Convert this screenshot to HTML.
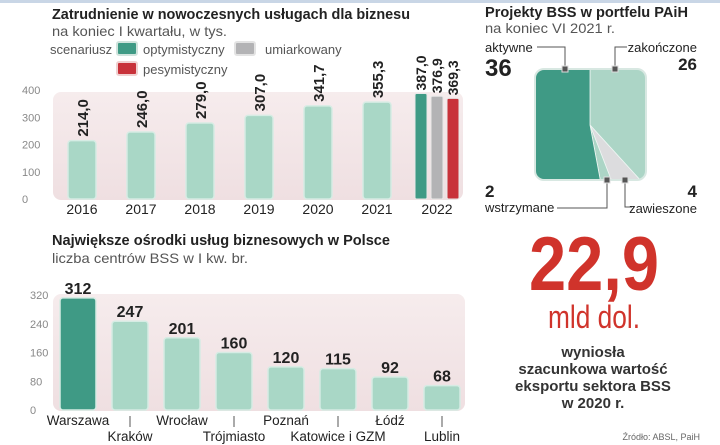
<!DOCTYPE html>
<html><head><meta charset="utf-8">
<style>
body{margin:0;background:#fff;}
#root{position:relative;width:720px;height:445px;overflow:hidden;background:#fff;font-family:"Liberation Sans",sans-serif;}
svg text{font-family:"Liberation Sans Narrow","Liberation Sans",sans-serif;}
</style></head>
<body>
<div id="root">
<svg id="svg" width="720" height="445" viewBox="0 0 720 445">
<defs>
<linearGradient id="bg" x1="0" y1="0" x2="0" y2="1"><stop offset="0" stop-color="#f6eced"/><stop offset="1" stop-color="#efdfe1"/></linearGradient>
<clipPath id="sq"><rect x="535" y="69" width="111" height="111" rx="9"/></clipPath>
</defs>
<rect x="0" y="0" width="720" height="3" fill="#c9d6e6"/>
<text x="52" y="19" font-size="15" font-weight="bold" fill="#222" textLength="358" lengthAdjust="spacingAndGlyphs">Zatrudnienie w nowoczesnych usługach dla biznesu</text>
<text x="52" y="36" font-size="14" fill="#555" textLength="175" lengthAdjust="spacingAndGlyphs">na koniec I kwartału, w tys.</text>
<text x="50" y="54" font-size="13" fill="#555">scenariusz</text>
<g><rect x="117" y="42" width="20" height="13" rx="2" fill="#3f9a85" stroke="#cfe3dc" stroke-width="2"/><text x="143" y="54" font-size="13" fill="#555">optymistyczny</text></g>
<g><rect x="235" y="42" width="20" height="13" rx="2" fill="#b3b3b5" stroke="#e3e3e3" stroke-width="2"/><text x="265" y="54" font-size="13" fill="#555">umiarkowany</text></g>
<g><rect x="117" y="62" width="20" height="13" rx="2" fill="#c8323a" stroke="#f0d0d0" stroke-width="2"/><text x="143" y="74" font-size="13" fill="#555">pesymistyczny</text></g>
<g id="topChart"></g>
<text x="52" y="245" font-size="15" font-weight="bold" fill="#222" textLength="338" lengthAdjust="spacingAndGlyphs">Największe ośrodki usług biznesowych w Polsce</text>
<text x="52" y="263" font-size="14" fill="#555" textLength="196" lengthAdjust="spacingAndGlyphs">liczba centrów BSS w I kw. br.</text>
<g id="botChart"></g>
<text x="485" y="17" font-size="15" font-weight="bold" fill="#222" textLength="203" lengthAdjust="spacingAndGlyphs">Projekty BSS w portfelu PAiH</text>
<text x="485" y="33" font-size="14" fill="#555" textLength="130" lengthAdjust="spacingAndGlyphs">na koniec VI 2021 r.</text>
<g id="pieChart"></g>
<text x="594" y="290" font-size="76" font-weight="bold" fill="#d0332b" text-anchor="middle" textLength="130" lengthAdjust="spacingAndGlyphs">22,9</text>
<text x="594" y="328" font-size="32" fill="#d0332b" text-anchor="middle" textLength="92" lengthAdjust="spacingAndGlyphs">mld dol.</text>
<g font-size="15" font-weight="bold" fill="#333" text-anchor="middle">
<text x="593" y="357">wyniosła</text>
<text x="593" y="374">szacunkowa wartość</text>
<text x="593" y="391">eksportu sektora BSS</text>
<text x="593" y="408">w 2020 r.</text>
</g>
<text x="700" y="440" font-size="9" fill="#666" text-anchor="end">Źródło: ABSL, PaiH</text>
</svg>
</div>
<script>
const NS="http://www.w3.org/2000/svg";
const years=["2016","2017","2018","2019","2020","2021"];
const empValues=[214.0,246.0,279.0,307.0,341.7,355.3];
const empLabels=["214,0","246,0","279,0","307,0","341,7","355,3"];
const scen2022=[387.0,376.9,369.3];
const scen2022Labels=["387,0","376,9","369,3"];
const empTicks=[0,100,200,300,400];
const cities=["Warszawa","Kraków","Wrocław","Trójmiasto","Poznań","Katowice i GZM","Łódź","Lublin"];
const cityValues=[312,247,201,160,120,115,92,68];
const cityTicks=[0,80,160,240,320];
const pieNames=["zakończone","zawieszone","wstrzymane","aktywne"];
const pieValues=[26,4,2,36];

function el(t,a,p){const e=document.createElementNS(NS,t);for(const k in a)e.setAttribute(k,a[k]);p.appendChild(e);return e;}
const topG=document.getElementById('topChart');
const y1=v=>199-v*(109/400);
const x1=i=>82+i*59;
let e=el('rect',{x:53,y:92,width:410,height:108,rx:8,fill:'url(#bg)'},topG);


empTicks.forEach(t=>{const tx=el('text',{x:22,y:y1(t)+4,'font-size':11,fill:'#888'},topG);tx.textContent=t;

});
empValues.forEach((v,i)=>{
 const b=el('rect',{x:x1(i)-14,y:y1(v),width:28,height:y1(0)-y1(v),rx:3,fill:'#a9d7c6',stroke:'#d6ece4','stroke-width':1.5},topG);
 
 
 const t=el('text',{x:0,y:0,'font-size':15,'font-weight':'bold',fill:'#222',transform:`translate(${x1(i)+6},${y1(v)-4}) rotate(-90)`},topG);t.textContent=empLabels[i];
 
 
 const yl=el('text',{x:x1(i),y:214,'font-size':14,fill:'#222','text-anchor':'middle'},topG);yl.textContent=years[i];
 
 
});
const cols=['#3f9a85','#b3b3b5','#c8323a'];
scen2022.forEach((v,i)=>{const cx=421+i*16;
 const b=el('rect',{x:cx-6,y:y1(v),width:12,height:y1(0)-y1(v),rx:1.5,fill:cols[i],stroke:'#e8e8e8','stroke-width':1},topG);
 
 
 const t=el('text',{x:0,y:0,'font-size':14,'font-weight':'bold',fill:'#222',transform:`translate(${cx+5},${y1(v)-3}) rotate(-90)`},topG);t.textContent=scen2022Labels[i];
 
 });
let yl=el('text',{x:437,y:214,'font-size':14,fill:'#222','text-anchor':'middle'},topG);yl.textContent="2022";



const botG=document.getElementById('botChart');
const y2=v=>410-v*(115/320);
const x2=i=>78+i*52;
e=el('rect',{x:53,y:294,width:412,height:117,rx:8,fill:'url(#bg)'},botG);


cityTicks.forEach(t=>{const tx=el('text',{x:30,y:y2(t)+4,'font-size':11,fill:'#888'},botG);tx.textContent=t;

});
cityValues.forEach((v,i)=>{
 const b=el('rect',{x:x2(i)-18,y:y2(v),width:36,height:y2(0)-y2(v),rx:3,fill:i==0?'#3f9a85':'#a9d7c6',stroke:'#d6ece4','stroke-width':1.5},botG);
 
 
 const t=el('text',{x:x2(i),y:y2(v)-4,'font-size':16,'font-weight':'bold',fill:'#222','text-anchor':'middle'},botG);t.textContent=v;
 
 
 const low=i%2==1;
 if(low){const l=el('line',{x1:x2(i),y1:416,x2:x2(i),y2:427,stroke:'#555','stroke-width':1},botG);
  
  }
 const c=el('text',{x:x2(i),y:low?441:425,'font-size':13.5,fill:'#222','text-anchor':'middle'},botG);c.textContent=cities[i];
 
 
});

const pieG=document.getElementById('pieChart');
const pcx=590,pcy=125,R=120;
const pcols=['#acd5c6','#dcdcde','#acd5c6','#3f9a85'];
const tot=pieValues.reduce((a,b)=>a+b,0);
let a0=0;
const g=el('g',{'clip-path':'url(#sq)'},pieG);


pieValues.forEach((v,i)=>{
 const a1=a0+v/tot*2*Math.PI;
 const p=(a)=>[pcx+R*Math.sin(a),pcy-R*Math.cos(a)];
 const [sx,sy]=p(a0),[ex,ey]=p(a1);
 const s=el('path',{d:`M${pcx},${pcy}L${sx},${sy}A${R},${R} 0 ${a1-a0>Math.PI?1:0} 1 ${ex},${ey}Z`,fill:pcols[i],stroke:'#eef6f3','stroke-width':0.8},g);
 
 
 a0=a1;});
e=el('rect',{x:535,y:69,width:111,height:111,rx:9,fill:'none',stroke:'#d8e8e2','stroke-width':2},pieG);


const ann=[
 {n:'aktywne',v:'36',lx:485,ly:52,vy:76,anchor:'start',bold:24,path:'M537,47 L565,47 L565,69',mx:565,my:69},
 {n:'zakończone',v:'26',lx:697,ly:52,vy:70,anchor:'end',bold:17,path:'M627,47 L615,47 L615,69',mx:615,my:69},
 {n:'wstrzymane',v:'2',lx:485,ly:212,vy:197,anchor:'start',bold:17,path:'M557,208 L607,208 L607,180',mx:607,my:180},
 {n:'zawieszone',v:'4',lx:697,ly:213,vy:197,anchor:'end',bold:17,path:'M632,207 L625,207 L625,180',mx:625,my:180}];
ann.forEach(o=>{
 const l=el('path',{d:o.path,stroke:'#555','stroke-width':1,fill:'none'},pieG);
 
 
 const m=el('rect',{x:o.mx-3,y:o.my-3,width:6,height:6,fill:'#555',stroke:'#ddd','stroke-width':1},pieG);
 
 
 const t=el('text',{x:o.lx,y:o.ly,'font-size':13,fill:'#222','text-anchor':o.anchor},pieG);t.textContent=o.n;
 
 
 const vv=el('text',{x:o.lx,y:o.vy,'font-size':o.bold,'font-weight':'bold',fill:'#222','text-anchor':o.anchor},pieG);vv.textContent=o.v;
 
 
});
</script>
</body></html>
